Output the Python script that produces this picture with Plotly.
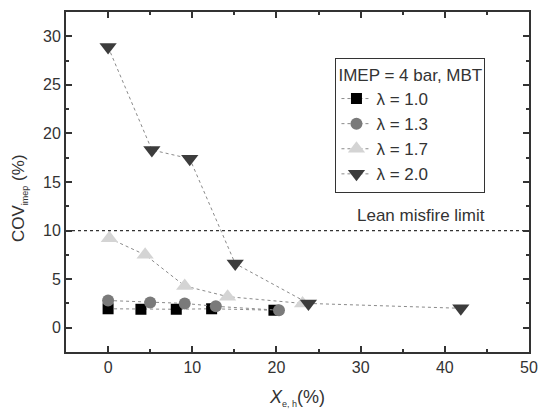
import plotly.graph_objects as go

# EGR rate X_e,h (%) and COV of IMEP (%) for each excess-air ratio
x_l10 = [0.0, 3.9, 8.1, 12.3, 19.7]
y_l10 = [1.95, 1.9, 1.9, 1.95, 1.8]

x_l13 = [0.0, 5.0, 9.1, 12.8, 20.3]
y_l13 = [2.8, 2.6, 2.5, 2.2, 1.8]

x_l17 = [0.15, 4.4, 9.1, 14.2, 23.1]
y_l17 = [9.2, 7.5, 4.3, 3.2, 2.5]

x_l20 = [0.0, 5.2, 9.7, 15.1, 23.8, 41.9]
y_l20 = [28.9, 18.3, 17.4, 6.6, 2.5, 2.0]

misfire_limit = 10.0

series = [
    ("λ = 1.0", x_l10, y_l10, "square", "#000000", 11),
    ("λ = 1.3", x_l13, y_l13, "circle", "#7a7a7a", 12),
    ("λ = 1.7", x_l17, y_l17, "triangle-up", "#d4d4d4", 15),
    ("λ = 2.0", x_l20, y_l20, "triangle-down", "#3c3c3c", 15),
]

INK = "#333333"

fig = go.Figure()
for name, xs, ys, sym, col, sz in series:
    fig.add_trace(go.Scatter(
        x=xs, y=ys, name=name, mode="lines+markers",
        line=dict(color="#8a8a8a", width=1, dash="dot"),
        marker=dict(symbol=sym, color=col, size=sz, line=dict(width=0)),
    ))

fig.add_shape(type="line", xref="paper", x0=0, x1=1, yref="y",
              y0=misfire_limit, y1=misfire_limit,
              line=dict(color=INK, width=1.2, dash="dot"))
fig.add_annotation(x=37.2, y=misfire_limit + 0.4, xref="x", yref="y",
                   text="Lean misfire limit", showarrow=False,
                   yanchor="bottom", font=dict(size=17, color=INK))

# axis titles
fig.add_annotation(xref="paper", yref="paper", x=0, y=0.453, xshift=-46,
                   xanchor="center", yanchor="middle", textangle=-90,
                   showarrow=False,
                   text="COV<sub><span style='font-size:9px'>imep</span></sub> (%)",
                   font=dict(size=17, color=INK))
fig.add_annotation(xref="paper", yref="paper", x=0.499, y=0, yshift=-46,
                   xanchor="center", yanchor="middle", showarrow=False,
                   text="<i>X</i><sub><span style='font-size:9px'>e, h</span></sub>(%)",
                   font=dict(size=18, color=INK))

axis_common = dict(
    showline=True, linecolor=INK, linewidth=2, mirror="ticks",
    ticks="inside", ticklen=6, tickwidth=2, tickcolor=INK,
    showgrid=False, zeroline=False,
    tickfont=dict(size=16, color=INK),
)

fig.update_xaxes(range=[-5, 50], dtick=10, tick0=0,
                 minor=dict(ticks="inside", ticklen=3, tickwidth=2,
                            tickcolor=INK, dtick=5, tick0=0, showgrid=False),
                 **axis_common)
fig.update_yaxes(range=[-2.5, 32.5], dtick=5, tick0=0,
                 minor=dict(ticks="inside", ticklen=3, tickwidth=2,
                            tickcolor=INK, dtick=2.5, tick0=0, showgrid=False),
                 **axis_common)

fig.update_layout(
    width=548, height=411,
    margin=dict(l=66, r=17, t=10, b=59),
    paper_bgcolor="white", plot_bgcolor="white",
    font=dict(family="Liberation Sans, Arial, sans-serif", color=INK),
    legend=dict(
        x=0.582, y=0.865, xanchor="left", yanchor="top",
        bordercolor=INK, borderwidth=1, bgcolor="white",
        title=dict(text="IMEP = 4 bar, MBT", font=dict(size=17)),
        font=dict(size=17), tracegroupgap=0, itemwidth=30,
    ),
)

fig.write_html("out.html")
